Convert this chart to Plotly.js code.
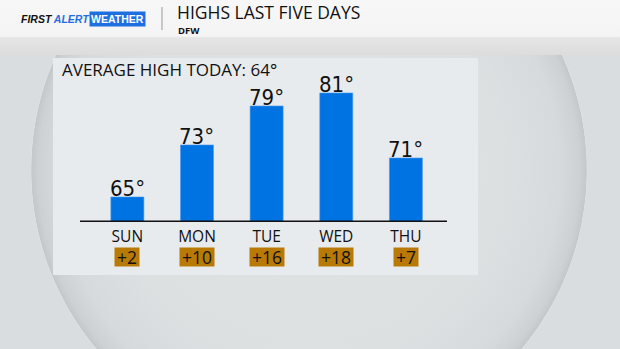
<!DOCTYPE html>
<html>
<head>
<meta charset="utf-8">
<script src="https://cdn.plot.ly/plotly-3.0.1.min.js"></script>
<style>
  html, body { margin: 0; padding: 0; }
  body {
    width: 620px; height: 349px; overflow: hidden;
    background:
      linear-gradient(to bottom, #f7f7f7 0px, #f4f4f4 37px, #e6e6e6 37px, #dcdcdc 55px, rgba(0,0,0,0) 55px),
      radial-gradient(circle 279px at 309px 170px, #e0e3e4 0%, #dde0e1 70%, #d7dadc 90%, #cdd1d2 97%, #c4c8ca 99.4%, #dde0e1 99.6%, #d9dddf 100%),
      #d9dddf;
  }
  #chart { width: 620px; height: 349px; }
</style>
</head>
<body>
<div id="chart"></div>
<script>
// ---- data ----
const days = ['SUN', 'MON', 'TUE', 'WED', 'THU'];
const highs = [65, 73, 79, 81, 71];
const departures = ['+2', '+10', '+16', '+18', '+7'];
const averageHigh = 64;
const chartTitle = 'HIGHS LAST FIVE DAYS';
const chartSubtitle = 'DFW';

// ---- geometry ----
const W = 620, H = 349;
const M = { l: 80, r: 173, t: 60, b: 127 };
const PW = W - M.l - M.r, PH = H - M.t - M.b;
const px = x => (x - M.l) / PW;
const py = y => (H - M.b - y) / PH;

const yMin = 61.15, yMax = 61.15 + PH / 6.5;

const numFont = 'Liberation Sans Narrow, DejaVu Sans Condensed, Roboto Condensed, Roboto, sans-serif';
const labFont = 'Open Sans, Noto Sans, sans-serif';
const logoFont = 'Liberation Sans, Arial, sans-serif';

const trace = {
  type: 'bar',
  x: days,
  y: highs,
  width: 0.474,
  marker: { color: '#0073e3', line: { color: '#4a9af0', width: 0.6 } },
  hoverinfo: 'skip'
};

const shapes = [
  // panel
  { type: 'rect', xref: 'paper', yref: 'paper', x0: px(53), x1: px(478), y0: py(275), y1: py(58),
    fillcolor: '#e8ebed', line: { width: 0 }, layer: 'below' },
  // baseline
  { type: 'line', xref: 'paper', yref: 'y', x0: 0, x1: 1, y0: yMin, y1: yMin,
    line: { color: '#111111', width: 3.2 } },
  // header separator
  { type: 'line', xref: 'paper', yref: 'paper', x0: px(162), x1: px(162), y0: py(7), y1: py(30),
    line: { color: '#9a9a9a', width: 1 } }
];

const annotations = [
  { xref: 'paper', yref: 'paper', x: px(60), y: py(69), xanchor: 'left', yanchor: 'middle',
    text: 'AVERAGE HIGH TODAY: ' + averageHigh + '°', showarrow: false,
    font: { family: labFont, size: 17, color: '#111111' } },
  { xref: 'paper', yref: 'paper', x: px(175), y: py(12), xanchor: 'left', yanchor: 'middle',
    text: chartTitle, showarrow: false,
    font: { family: labFont, size: 17.5, color: '#111111' } },
  { xref: 'paper', yref: 'paper', x: px(176), y: py(30.5), xanchor: 'left', yanchor: 'middle',
    text: '<b>' + chartSubtitle + '</b>', showarrow: false,
    font: { family: labFont, size: 9.5, color: '#111111' } },
  { xref: 'paper', yref: 'paper', x: px(19), y: py(19), xanchor: 'left', yanchor: 'middle',
    text: '<b><i>FIRST </i></b><b><i><span style="color:#1f6fe0">ALERT</span></i></b>', showarrow: false,
    font: { family: logoFont, size: 10.5, color: '#111111' } },
  { xref: 'paper', yref: 'paper', x: px(89), y: py(19), xanchor: 'left', yanchor: 'middle',
    text: '<b>WEATHER</b>', showarrow: false, bgcolor: '#1f6fe0', borderpad: 1,
    font: { family: logoFont, size: 10.5, color: '#ffffff' } }
];

days.forEach((d, i) => {
  // value labels above bars
  annotations.push({
    xref: 'x', yref: 'y', x: d, y: highs[i], xanchor: 'center', yanchor: 'bottom', yshift: -5,
    text: highs[i] + '°', showarrow: false, borderpad: 0,
    font: { family: numFont, size: 22, color: '#111111' }
  });
  // departure from normal boxes
  annotations.push({
    xref: 'x', yref: 'paper', x: d, y: py(256.5), xanchor: 'center', yanchor: 'middle',
    text: departures[i], showarrow: false, bgcolor: '#b97a05', borderpad: 2, height: 14,
    font: { family: labFont, size: 17.5, color: '#111111' }
  });
});

const layout = {
  width: W, height: H,
  margin: M,
  paper_bgcolor: 'rgba(0,0,0,0)',
  plot_bgcolor: 'rgba(0,0,0,0)',
  showlegend: false,
  xaxis: {
    type: 'category', range: [-0.68, 4.59], showgrid: false, zeroline: false, showline: false,
    ticks: '', ticklabelstandoff: 3,
    tickfont: { family: labFont, size: 15.5, color: '#111111' }, fixedrange: true
  },
  yaxis: {
    range: [yMin, yMax], showgrid: false, zeroline: false, showline: false,
    showticklabels: false, ticks: '', fixedrange: true
  },
  shapes: shapes,
  annotations: annotations
};

Plotly.newPlot('chart', [trace], layout, { displayModeBar: false, staticPlot: true });
</script>
</body>
</html>
